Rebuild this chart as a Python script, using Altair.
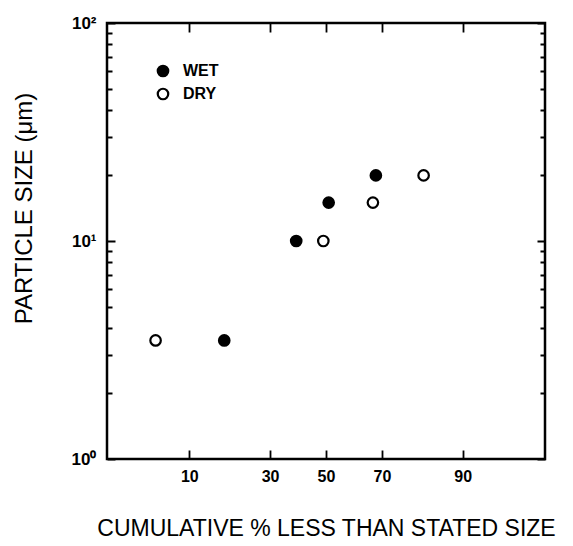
import statistics

import altair as alt
import pandas as pd

# Cumulative percent finer than each particle size, wet and dry samples
wet_pct = [17, 39, 51, 68]
wet_size = [3.5, 10, 15, 20]
dry_pct = [5.5, 49, 67, 82]
dry_size = [3.5, 10, 15, 20]

pct_ticks = [10, 30, 50, 70, 90]
size_ticks = [1, 2, 3, 4, 5, 6, 7, 8, 9, 10, 20, 30, 40, 50, 60, 70, 80, 90, 100]

# probability (normal-quantile) axis: ticks and domain in z units
nd = statistics.NormalDist()
z_ticks = [nd.inv_cdf(p / 100) for p in pct_ticks]
z_lo, z_hi = nd.inv_cdf(0.02), nd.inv_cdf(0.98)

df = pd.DataFrame(
    {
        "pct": wet_pct + dry_pct,
        "size": wet_size + dry_size,
        "sample": ["WET"] * len(wet_pct) + ["DRY"] * len(dry_pct),
    }
)

W, H = 438, 436
FONT = "Liberation Sans"

x_axis = alt.Axis(
    values=z_ticks,
    labelExpr="format(cumulativeNormal(datum.value) * 100, '.0f')",
    domain=False,
    ticks=False,
    grid=True,
    gridColor="black",
    gridWidth=1.8,
    gridOpacity=1,
    gridDash=[9, H - 18],
    labelFont=FONT,
    labelFontSize=16,
    labelFontWeight="bold",
    labelColor="black",
    labelPadding=9,
    labelFlush=False,
    labelOverlap=False,
    title="CUMULATIVE % LESS THAN STATED SIZE",
    titleFont=FONT,
    titleFontSize=23,
    titleFontWeight="normal",
    titleColor="black",
    titleY=69,
    titleBaseline="middle",
)

major = "datum.value == 1 || datum.value == 10 || datum.value == 100"
y_axis = alt.Axis(
    values=size_ticks,
    labelExpr=(
        "datum.value == 1 ? '10⁰' : datum.value == 10 ? '10¹' : "
        "datum.value == 100 ? '10²' : ''"
    ),
    domain=False,
    ticks=False,
    grid=True,
    gridColor="black",
    gridWidth=1.8,
    gridOpacity=1,
    gridDash={"condition": {"test": major, "value": [8, W - 16]}, "value": [5, W - 10]},
    labelFont=FONT,
    labelFontSize=17,
    labelFontWeight="bold",
    labelColor="black",
    labelPadding=11,
    labelFlush=False,
    labelOverlap=False,
    title="PARTICLE SIZE (μm)",
    titleFont=FONT,
    titleFontSize=24,
    titleFontWeight="normal",
    titleColor="black",
    titleAngle=270,
    titleX=-83,
    titleY=185,
    titleAlign="center",
    titleBaseline="middle",
)

chart = (
    alt.Chart(df)
    .transform_calculate(z="quantileNormal(datum.pct / 100)")
    .mark_circle(size=110, stroke="black", strokeWidth=2.2, opacity=1)
    .encode(
        x=alt.X("z:Q", scale=alt.Scale(domain=[z_lo, z_hi], nice=False, zero=False), axis=x_axis),
        y=alt.Y("size:Q", scale=alt.Scale(type="log", domain=[1, 100], nice=False), axis=y_axis),
        fill=alt.Fill(
            "sample:N",
            scale=alt.Scale(domain=["WET", "DRY"], range=["black", "white"]),
            legend=alt.Legend(
                title=None,
                orient="none",
                legendX=48,
                legendY=40,
                symbolType="circle",
                symbolSize=110,
                symbolStrokeColor="black",
                symbolStrokeWidth=2.2,
                symbolOpacity=1,
                labelFont=FONT,
                labelFontSize=16,
                labelFontWeight="bold",
                labelColor="black",
                labelOffset=12,
                rowPadding=3,
            ),
        ),
    )
    .properties(
        width=W,
        height=H,
        autosize=alt.AutoSizeParams(type="none"),
        padding={"left": 107, "top": 23, "right": 28, "bottom": 87},
        background="white",
    )
    .configure_view(stroke="black", strokeWidth=2.5)
)

chart.save("out.html", embed_options={"renderer": "svg", "actions": False})
